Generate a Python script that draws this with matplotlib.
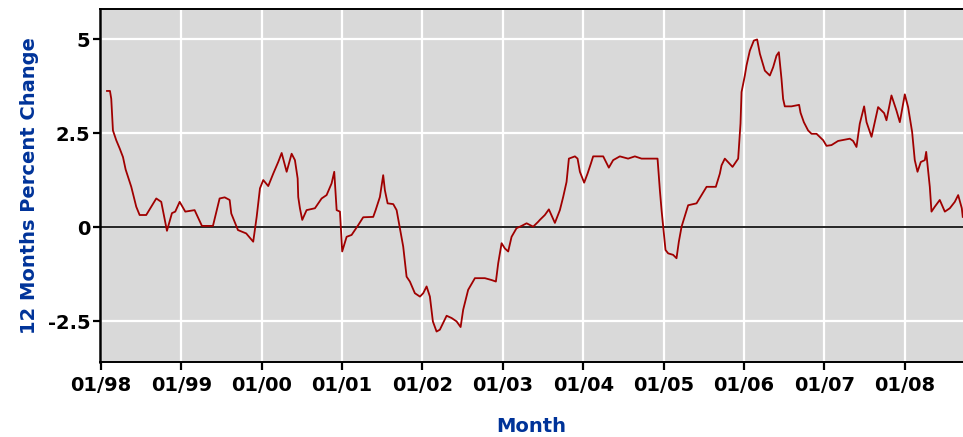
#!/usr/bin/env python3
# -*- coding: utf-8 -*-
"""
12 Months Percent Change chart (01/98 - 2008)
"""

import matplotlib
matplotlib.use('Agg')
import matplotlib.pyplot as plt

# x positions in years since Jan 1998
years_since_98 = [
    0.075, 0.112, 0.128, 0.149, 0.190, 0.233, 0.274, 0.307, 0.377, 0.439,
    0.481, 0.563, 0.626, 0.688, 0.750, 0.821, 0.883, 0.924, 0.979, 1.049,
    1.165, 1.256, 1.393, 1.476, 1.539, 1.601, 1.621, 1.704, 1.807, 1.874,
    1.894, 1.937, 1.978, 2.019, 2.081, 2.143, 2.205, 2.248, 2.310, 2.372,
    2.413, 2.447, 2.454, 2.475, 2.504, 2.558, 2.662, 2.745, 2.807, 2.869,
    2.902, 2.932, 2.973, 3.001, 3.056, 3.118, 3.200, 3.262, 3.387, 3.417,
    3.470, 3.511, 3.532, 3.566, 3.636, 3.678, 3.719, 3.760, 3.802, 3.843,
    3.905, 3.968, 4.009, 4.051, 4.092, 4.129, 4.175, 4.216, 4.300, 4.362,
    4.424, 4.474, 4.506, 4.568, 4.652, 4.776, 4.860, 4.913, 4.942, 4.984,
    5.025, 5.066, 5.108, 5.170, 5.233, 5.295, 5.377, 5.439, 5.460, 5.522,
    5.572, 5.647, 5.709, 5.750, 5.792, 5.821, 5.896, 5.929, 5.958, 6.011,
    6.053, 6.095, 6.123, 6.248, 6.318, 6.372, 6.455, 6.558, 6.642, 6.725,
    6.924, 6.953, 6.974, 6.994, 7.023, 7.056, 7.118, 7.160, 7.189, 7.223,
    7.255, 7.305, 7.409, 7.471, 7.534, 7.649, 7.699, 7.720, 7.761, 7.857,
    7.927, 7.956, 7.969, 8.010, 8.031, 8.072, 8.122, 8.163, 8.197, 8.259,
    8.321, 8.362, 8.404, 8.433, 8.466, 8.486, 8.507, 8.590, 8.685, 8.703,
    8.744, 8.797, 8.840, 8.902, 8.984, 9.026, 9.088, 9.170, 9.316, 9.357,
    9.399, 9.440, 9.494, 9.524, 9.586, 9.627, 9.668, 9.743, 9.772, 9.834,
    9.896, 9.938, 10.000, 10.041, 10.091, 10.124, 10.158, 10.199, 10.249, 10.266,
    10.311, 10.332, 10.373, 10.435, 10.498, 10.560, 10.622, 10.664, 10.709, 10.721,
]

# 12 months percent change values
pct_change = [
    3.62, 3.62, 3.41, 2.57, 2.31, 2.09, 1.86, 1.53, 1.07, 0.54,
    0.32, 0.32, 0.54, 0.76, 0.67, -0.10, 0.37, 0.41, 0.67, 0.41,
    0.45, 0.03, 0.03, 0.76, 0.79, 0.72, 0.36, -0.08, -0.17, -0.34,
    -0.39, 0.27, 1.03, 1.25, 1.09, 1.42, 1.73, 1.97, 1.47, 1.95,
    1.78, 1.29, 0.80, 0.50, 0.19, 0.45, 0.50, 0.76, 0.85, 1.16,
    1.47, 0.45, 0.41, -0.65, -0.26, -0.21, 0.05, 0.26, 0.27, 0.45,
    0.80, 1.38, 0.98, 0.63, 0.61, 0.45, -0.03, -0.52, -1.32, -1.45,
    -1.76, -1.85, -1.76, -1.58, -1.85, -2.51, -2.78, -2.73, -2.36, -2.42,
    -2.51, -2.66, -2.20, -1.67, -1.36, -1.36, -1.41, -1.45, -0.96, -0.43,
    -0.57, -0.65, -0.26, -0.03, 0.03, 0.10, 0.01, 0.14, 0.19, 0.32,
    0.47, 0.11, 0.45, 0.80, 1.20, 1.82, 1.88, 1.82, 1.47, 1.18,
    1.42, 1.69, 1.88, 1.88, 1.58, 1.78, 1.88, 1.82, 1.88, 1.82,
    1.82, 0.98, 0.45, 0.01, -0.61, -0.70, -0.74, -0.83, -0.39, 0.01,
    0.23, 0.58, 0.63, 0.85, 1.07, 1.07, 1.42, 1.64, 1.82, 1.60,
    1.82, 2.75, 3.59, 4.03, 4.30, 4.69, 4.96, 4.99, 4.61, 4.16,
    4.03, 4.25, 4.56, 4.65, 3.94, 3.41, 3.21, 3.21, 3.25, 3.04,
    2.79, 2.57, 2.48, 2.48, 2.31, 2.16, 2.18, 2.29, 2.35, 2.29,
    2.13, 2.75, 3.21, 2.79, 2.40, 2.79, 3.19, 3.03, 2.84, 3.50,
    3.10, 2.79, 3.53, 3.19, 2.53, 1.78, 1.47, 1.73, 1.78, 2.00,
    1.07, 0.41, 0.54, 0.72, 0.41, 0.50, 0.67, 0.85, 0.50, 0.27,
]

# tick labels
x_tick_labels = ['01/98', '01/99', '01/00', '01/01', '01/02', '01/03',
                 '01/04', '01/05', '01/06', '01/07', '01/08']
y_ticks = [-2.5, 0, 2.5, 5]
y_tick_labels = ['-2.5', '0', '2.5', '5']

label_blue = '#003399'
line_red = '#a00000'

fig = plt.figure(figsize=(9.63, 4.37), dpi=100)
ax = fig.add_axes([100 / 963, 75 / 437, 863 / 963, 353 / 437])
ax.set_facecolor('#d9d9d9')

# grid lines
x_ticks = list(range(len(x_tick_labels)))
for xt in x_ticks:
    ax.axvline(xt, color='white', linewidth=1.6, zorder=1)
for yt in y_ticks:
    ax.axhline(yt, color='white', linewidth=1.6, zorder=1)

# zero line
ax.axhline(0, color='black', linewidth=1.2, zorder=2)

# data line
ax.plot(years_since_98, pct_change, color=line_red, linewidth=1.3, zorder=3)

ax.set_xlim(-0.012, 10.724)
ax.set_ylim(-3.59, 5.80)

ax.set_xticks(x_ticks)
ax.set_xticklabels(x_tick_labels, fontsize=14, fontweight='bold')
ax.set_yticks(y_ticks)
ax.set_yticklabels(y_tick_labels, fontsize=14, fontweight='bold')
ax.tick_params(axis='x', length=6, width=1.6, pad=4, colors='black')
ax.tick_params(axis='y', length=5, width=1.6, pad=2, colors='black')

# spines
ax.spines['right'].set_visible(False)
ax.spines['left'].set_linewidth(1.8)
ax.spines['bottom'].set_linewidth(1.4)
ax.spines['top'].set_linewidth(1.4)

ax.set_xlabel('Month', fontsize=14, fontweight='bold', color=label_blue, labelpad=16)
ax.set_ylabel('12 Months Percent Change', fontsize=14, fontweight='bold',
              color=label_blue, labelpad=6)

plt.savefig('out.png', dpi=100)
plt.close()
